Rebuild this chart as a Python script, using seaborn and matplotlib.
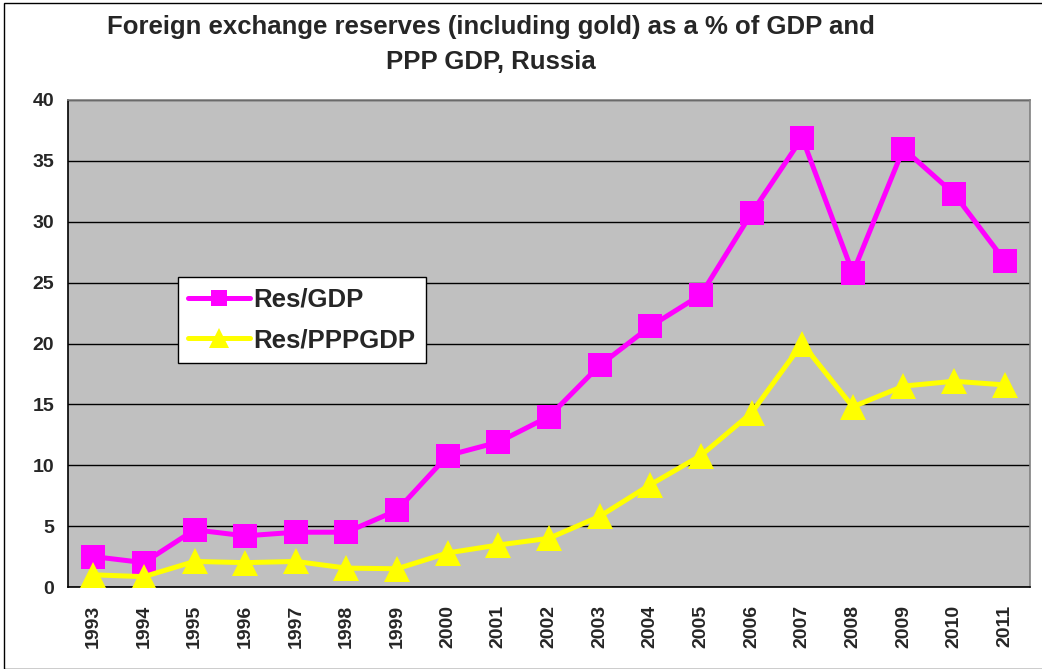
import matplotlib
matplotlib.use("Agg")
import matplotlib.pyplot as plt
import seaborn as sns
import pandas as pd
from matplotlib.lines import Line2D
from matplotlib.patches import Rectangle

years = [str(y) for y in range(1993, 2012)]
res_gdp = [2.5, 2.0, 4.7, 4.2, 4.5, 4.5, 6.3, 10.8, 11.9, 14.0,
           18.2, 21.4, 24.0, 30.7, 36.9, 25.8, 36.0, 32.3, 26.8]
res_ppp = [1.0, 0.85, 2.1, 2.0, 2.1, 1.55, 1.5, 2.8, 3.45, 4.0,
           5.8, 8.4, 10.8, 14.3, 20.0, 14.8, 16.5, 16.9, 16.6]

df = pd.DataFrame({"year": years, "Res/GDP": res_gdp, "Res/PPPGDP": res_ppp})
df["pos"] = range(len(years))

sns.set_style("white")
plt.rcParams["font.family"] = ["Liberation Sans", "DejaVu Sans"]

fig = plt.figure(figsize=(10.42, 6.69), dpi=100)
ax = fig.add_axes([68 / 1042, 82 / 669, 962 / 1042, 487 / 669])
ax.set_facecolor("#C0C0C0")

# the two series
sns.lineplot(data=df, x="pos", y="Res/GDP", ax=ax, color="#FF00FF", linewidth=3.6,
             marker="s", markersize=17, markeredgewidth=0, zorder=4)
sns.lineplot(data=df, x="pos", y="Res/PPPGDP", ax=ax, color="#FFFF00", linewidth=3.6,
             marker="^", markersize=19, markeredgewidth=0, zorder=4)

ax.set_ylim(0, 40)
ax.set_xlim(-0.5, len(years) - 0.5)
ax.set_yticks(range(0, 41, 5))
ax.yaxis.grid(True, color="black", linewidth=1)
ax.set_axisbelow(True)
ax.set_xticks(df["pos"])
ax.set_xticklabels(years, rotation=90, fontsize=14, fontweight="bold")
ax.set_xticks([p - 0.5 for p in range(len(years) + 1)], minor=True)
ax.tick_params(axis="x", which="major", length=0, pad=13)
ax.tick_params(axis="x", which="minor", length=6, width=1, color="black", direction="out")
ax.tick_params(axis="y", length=6, width=1, color="black", direction="out", labelsize=14, pad=4)
for lab in ax.get_yticklabels():
    lab.set_fontweight("bold")
ax.set_xlabel("")
ax.set_ylabel("")

ax.spines["left"].set_color("black")
ax.spines["bottom"].set_color("black")
ax.spines["top"].set_color("#808080")
ax.spines["right"].set_color("#808080")
for s in ax.spines.values():
    s.set_linewidth(1.2)
    s.set_visible(True)

handles = [
    Line2D([], [], color="#FF00FF", linewidth=3.6, marker="s", markersize=12, markeredgewidth=0),
    Line2D([], [], color="#FFFF00", linewidth=3.6, marker="^", markersize=14, markeredgewidth=0),
]
leg = ax.legend(handles, ["Res/GDP", "Res/PPPGDP"], loc="upper left",
                bbox_to_anchor=(0.114, 0.636), frameon=True, fancybox=False,
                framealpha=1, edgecolor="black", handlelength=2.4,
                prop={"size": 18.5, "weight": "bold"}, borderpad=0.4,
                labelspacing=0.65, handletextpad=0.15, borderaxespad=0)
leg.get_frame().set_linewidth(1)

fig.text(491 / 1042, 1 - 27 / 669,
         "Foreign exchange reserves (including gold) as a % of GDP and",
         ha="center", va="center", fontsize=18.5, fontweight="bold")
fig.text(491 / 1042, 1 - 62 / 669, "PPP GDP, Russia",
         ha="center", va="center", fontsize=18.5, fontweight="bold")

fig.patches.append(Rectangle((4 / 1042, 0), 1040 / 1042, 1 - 3 / 669,
                             transform=fig.transFigure, fill=False,
                             edgecolor="black", linewidth=1))

fig.savefig("out.png", dpi=100)
